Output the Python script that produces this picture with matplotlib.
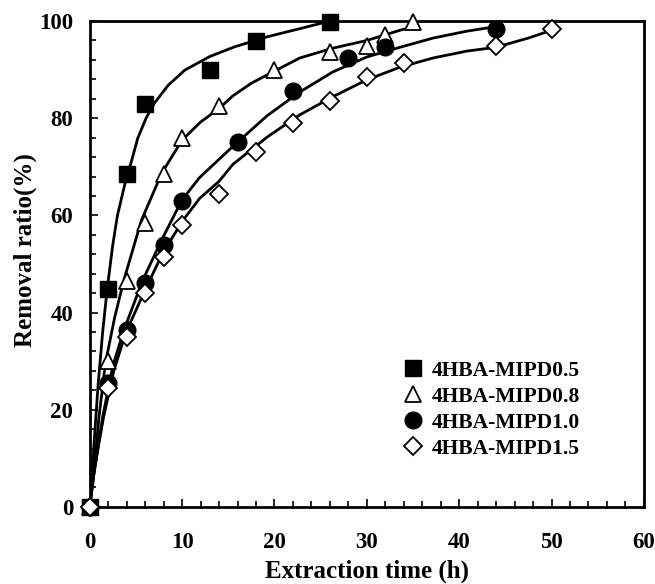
import matplotlib
matplotlib.use("Agg")
import matplotlib.pyplot as plt
from matplotlib.ticker import MultipleLocator

plt.rcParams['font.family'] = ['Liberation Serif', 'DejaVu Serif']
plt.rcParams['font.weight'] = 'bold'

labels = ['4HBA-MIPD0.5', '4HBA-MIPD0.8', '4HBA-MIPD1.0', '4HBA-MIPD1.5']

# measured points
t_05 = [0, 2, 4, 6, 13, 18, 26]
r_05 = [0, 44.8, 68.5, 83, 90, 95.8, 99.8]
t_08 = [0, 2, 4, 6, 8, 10, 14, 20, 26, 30, 32, 35]
r_08 = [0, 30, 46.5, 58.5, 68.5, 76, 82.5, 90, 93.6, 94.9, 97.2, 99.8]
t_10 = [0, 2, 4, 6, 8, 10, 16, 22, 28, 32, 44]
r_10 = [0, 25.5, 36.5, 46, 54, 63, 75, 85.5, 92.3, 94.7, 98.3]
t_15 = [0, 2, 4, 6, 8, 10, 14, 18, 22, 26, 30, 34, 44, 50]
r_15 = [0, 24.5, 35, 44, 51.5, 58, 64.5, 73, 79, 83.6, 88.5, 91.3, 94.9, 98.4]

# fitted curves
ct_05 = [0, 0.2, 0.5, 0.9, 1.4, 1.9, 2.5, 3, 4, 4.5, 5.2, 6.1, 7, 8.5, 10.3, 13, 15.7, 19.3, 22.9, 25.8, 26.5]
cr_05 = [0, 5, 14, 25, 36, 45, 54, 60, 68, 71, 75.9, 80, 83.1, 86.8, 89.9, 92.7, 94.7, 96.8, 98.5, 99.9, 100]
ct_08 = [0, 0.35, 1.0, 1.7, 2.7, 3.7, 5.6, 7.8, 10, 12, 14, 15.5, 17.5, 19.2, 22.75, 26.3, 30, 33.6, 35]
cr_08 = [0, 5, 18.5, 29.6, 39, 46.7, 59, 68.7, 75.5, 79.2, 82, 84.6, 87.2, 88.9, 92.4, 94.4, 96, 98.1, 98.8]
ct_10 = [0, 0.3, 0.8, 1.4, 2.5, 3.7, 5.75, 7.8, 10, 11.9, 15.5, 19.2, 22.75, 26.3, 30, 33.6, 37.2, 40.8, 43.8]
cr_10 = [0, 5, 11, 18.5, 29, 36.4, 46.7, 55, 63.2, 67.8, 74.2, 80.5, 85.4, 89.5, 92.6, 94.6, 96.5, 97.9, 98.8]
ct_15 = [0, 0.3, 0.8, 1.5, 2.6, 3.9, 6, 7.9, 10.1, 11.9, 14, 15.5, 19.2, 22.75, 26.3, 30, 33.6, 37.2, 40.8, 44, 47.5, 50]
cr_15 = [0, 5, 11, 18.5, 28, 35.8, 44.7, 52.2, 59, 63.5, 67, 70.5, 76.1, 80.7, 84.4, 87.9, 90.5, 92.4, 93.8, 94.6, 96.5, 98.1]

x_ticks = [0, 10, 20, 30, 40, 50, 60]
y_ticks = [0, 20, 40, 60, 80, 100]

fig = plt.figure(figsize=(6.55, 5.84), dpi=100)
ax = fig.add_axes([0.137, 0.132, 0.846, 0.832])

lw = 2.0
for ct, cr in [(ct_05, cr_05), (ct_08, cr_08), (ct_10, cr_10), (ct_15, cr_15)]:
    ax.plot(ct, cr, color='black', lw=lw, zorder=2, solid_capstyle='round',
            solid_joinstyle='round')

ax.plot(t_05, r_05, 's', ms=11, mfc='black', mec='black', mew=1, ls='none',
        label=labels[0], zorder=3, clip_on=False)
ax.plot(t_08, r_08, '^', ms=12, mfc='white', mec='black', mew=1.3, ls='none',
        label=labels[1], zorder=3, clip_on=False)
ax.plot(t_10, r_10, 'o', ms=12, mfc='black', mec='black', mew=1, ls='none',
        label=labels[2], zorder=3, clip_on=False)
ax.plot(t_15, r_15, 'D', ms=9.5, mfc='white', mec='black', mew=1.3, ls='none',
        label=labels[3], zorder=3, clip_on=False)

ax.set_xlim(0, 60)
ax.set_ylim(0, 100)
ax.set_xticks(x_ticks)
ax.set_yticks(y_ticks)
ax.xaxis.set_minor_locator(MultipleLocator(2))
ax.yaxis.set_minor_locator(MultipleLocator(4))
ax.tick_params(which='both', direction='in', top=False, right=False, width=1.2)
ax.tick_params(which='major', length=6, labelsize=16.5)
ax.tick_params(axis='x', which='major', pad=18)
ax.tick_params(axis='y', which='major', pad=12)
ax.tick_params(which='minor', length=4)
for lab in ax.get_xticklabels() + ax.get_yticklabels():
    lab.set_fontweight('bold')
for s in ax.spines.values():
    s.set_linewidth(2)

ax.set_xlabel('Extraction time (h)', fontsize=18, fontweight='bold', labelpad=5)
ax.set_ylabel('Removal ratio(%)', fontsize=18, fontweight='bold')
ax.yaxis.set_label_coords(-0.096, 0.529)

leg = ax.legend(loc='center left', bbox_to_anchor=(0.54, 0.2), frameon=False,
                fontsize=15.5, handletextpad=0.3, labelspacing=0.28, borderpad=0,
                handlelength=1.2)
for t in leg.get_texts():
    t.set_fontweight('bold')

fig.savefig('out.png', dpi=100)
